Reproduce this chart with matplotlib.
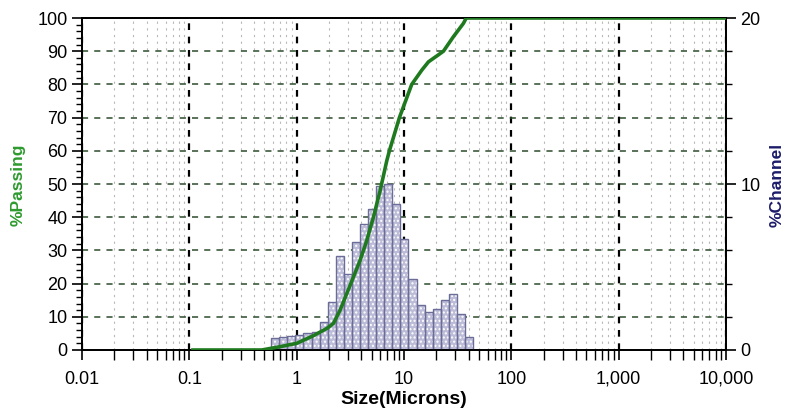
import matplotlib
matplotlib.use("Agg")
import matplotlib.pyplot as plt
from matplotlib.ticker import FixedLocator, LogLocator, NullFormatter, FuncFormatter
import numpy as np

plt.rcParams['font.family'] = ['Liberation Sans', 'DejaVu Sans']

# channel bins (microns) and % in each channel
bin_edges = [0.578, 0.688, 0.818, 0.972, 1.156, 1.375, 1.635, 1.945, 2.312, 2.750,
             3.270, 3.889, 4.625, 5.500, 6.541, 7.778, 9.250, 11.00, 13.08, 15.56,
             18.50, 22.00, 26.16, 31.11, 37.00, 44.00]
channel = [0.70, 0.77, 0.84, 0.90, 1.00, 1.10, 1.70, 2.90, 5.66, 4.60,
           6.50, 7.60, 8.50, 9.90, 10.00, 8.80, 6.70, 4.26, 2.70, 2.30,
           2.45, 3.00, 3.37, 2.17, 0.80]

# cumulative % passing curve
curve_size = [0.108, 0.473, 0.70, 1.00, 1.43, 1.91, 2.20, 2.54, 2.93, 3.38, 3.90,
              4.50, 5.19, 5.99, 6.91, 7.31, 9.06, 11.8, 14.65, 16.9, 20.9, 23.3,
              28.9, 35.8, 38.0, 10000]
passing = [0, 0, 1.0, 2.0, 4.3, 6.5, 8.0, 12, 17, 22, 27,
           33, 40, 48, 57, 60, 70, 80, 84.3, 86.8, 88.9, 90,
           94.4, 98.4, 100, 100]

x_ticks = [0.01, 0.1, 1, 10, 100, 1000, 10000]
x_labels = ['0.01', '0.1', '1', '10', '100', '1,000', '10,000']

fig = plt.figure(figsize=(7.91, 4.19), dpi=100)
ax_ch = fig.add_axes([0.1037, 0.1647, 0.8141, 0.7923])
ax_p = ax_ch.twinx()
ax_ch.yaxis.tick_right()
ax_p.yaxis.tick_left()

# bars (channel %)
left = np.array(bin_edges[:-1])
width = np.diff(bin_edges)
ax_ch.bar(left, channel, width=width, align='edge', color='#bcbcd8',
          edgecolor='white', hatch='....', linewidth=0, zorder=2)
ax_ch.bar(left, channel, width=width, align='edge', fill=False,
          edgecolor='#6c6c98', linewidth=1.0, zorder=3)

ax_ch.set_xscale('log')
ax_ch.set_xlim(0.01, 10000)
ax_ch.set_ylim(0, 20)
ax_ch.yaxis.set_major_locator(FixedLocator([0, 10, 20]))
ax_ch.yaxis.set_minor_locator(FixedLocator(np.arange(2, 20, 2)))
ax_ch.xaxis.set_major_locator(FixedLocator(x_ticks))
ax_ch.xaxis.set_major_formatter(FuncFormatter(lambda v, p: x_labels[x_ticks.index(v)] if v in x_ticks else ''))
ax_ch.xaxis.set_minor_locator(LogLocator(base=10, subs=np.arange(2, 10), numticks=20))
ax_ch.xaxis.set_minor_formatter(NullFormatter())

ax_ch.set_axisbelow(True)
ax_ch.grid(axis='x', which='major', color='black', linestyle=(0, (3, 3)), linewidth=1.6)
ax_ch.grid(axis='x', which='minor', color='#b8b8b8', linestyle=(0, (2, 4)), linewidth=0.8)
ax_ch.grid(axis='y', which='both', color='#2c4a2c', linestyle=(0, (4, 4)), linewidth=1.1)

# curve (% passing)
ax_p.plot(curve_size, passing, color='#1f7a1f', linewidth=2.6, solid_joinstyle='round', zorder=5)
ax_p.set_ylim(0, 100)
ax_p.yaxis.set_major_locator(FixedLocator(np.arange(0, 101, 10)))
ax_p.yaxis.set_minor_locator(FixedLocator(np.arange(0, 101, 2)))

for a in (ax_ch, ax_p):
    a.tick_params(which='major', direction='out', length=7, width=1.2, labelsize=13, colors='black')
    a.tick_params(which='minor', direction='out', length=4, width=1.0)
    for s in a.spines.values():
        s.set_linewidth(1.3)
ax_ch.tick_params(axis='x', which='minor', length=7)
ax_ch.tick_params(axis='x', which='major', length=7, pad=8)

ax_ch.set_xlabel('Size(Microns)', fontsize=14, fontweight='bold', labelpad=2)
fig.text(0.0228, 0.5585, '%Passing', rotation=90, ha='center', va='center',
         fontsize=12.5, fontweight='bold', color='#2e9a2e')
fig.text(0.982, 0.5585, '%Channel', rotation=90, ha='center', va='center',
         fontsize=12.5, fontweight='bold', color='#1c1c6a')

fig.savefig('out.png', dpi=100, facecolor='white')
